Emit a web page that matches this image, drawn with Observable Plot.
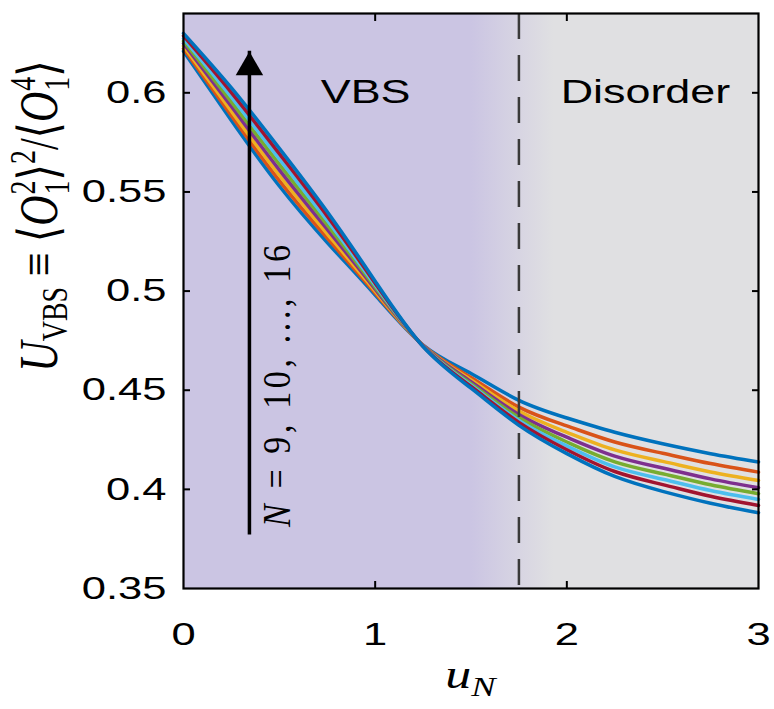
<!DOCTYPE html>
<html><head><meta charset="utf-8">
<script src="https://cdn.jsdelivr.net/npm/d3@7"></script>
<script src="https://cdn.jsdelivr.net/npm/@observablehq/plot@0.6"></script>
<style>body{margin:0;background:#fff}</style>
</head><body><div id="chart"></div>
<script>
// ---- data ----
const Ns = [9, 10, 11, 12, 13, 14, 15, 16];
const lineColors = ["#0072BD", "#D95319", "#EDB120", "#7E2F8E", "#77AC30", "#4DBEEE", "#A2142F", "#0072BD"];
const uGrid = [0, 0.25, 0.5, 0.75, 1, 1.25, 1.5, 1.75, 2, 2.25, 2.5, 2.75, 3];
const U_N9  = [0.621, 0.586, 0.553, 0.5245, 0.498, 0.4728, 0.4584, 0.4449, 0.436, 0.4288, 0.423, 0.418, 0.4138];
const U_N10 = [0.6223, 0.5884, 0.5557, 0.5267, 0.499, 0.4727, 0.4564, 0.4415, 0.432, 0.4239, 0.4182, 0.413, 0.4087];
const U_N11 = [0.6236, 0.5907, 0.5584, 0.5289, 0.500, 0.4726, 0.4552, 0.4395, 0.4288, 0.4199, 0.4141, 0.4088, 0.4045];
const U_N12 = [0.6249, 0.5931, 0.5611, 0.5311, 0.501, 0.4725, 0.4543, 0.4378, 0.4263, 0.4168, 0.4108, 0.4053, 0.4008];
const U_N13 = [0.6261, 0.5954, 0.5639, 0.5334, 0.502, 0.4723, 0.4533, 0.4362, 0.4239, 0.4139, 0.4079, 0.4023, 0.3978];
const U_N14 = [0.6274, 0.5978, 0.5666, 0.5356, 0.503, 0.4722, 0.4525, 0.4348, 0.4219, 0.4113, 0.4051, 0.3994, 0.3949];
const U_N15 = [0.6287, 0.6001, 0.5693, 0.5378, 0.504, 0.4721, 0.4519, 0.4338, 0.420, 0.409, 0.4024, 0.3965, 0.3919];
const U_N16 = [0.630, 0.6025, 0.572, 0.540, 0.505, 0.472, 0.451, 0.4323, 0.418, 0.4065, 0.399, 0.393, 0.3882];
const xTicks = [0, 1, 2, 3];
const yTicks = [0.35, 0.4, 0.45, 0.5, 0.55, 0.6];
const yTickLabels = ["0.35", "0.4", "0.45", "0.5", "0.55", "0.6"];
const phaseBoundary = [1.75];
const arrowSpec = [{u: 0.344, from: 0.377, to: 0.621}];
const regionLabels = [{text: "VBS", u: 0.95, U: 0.6}, {text: "Disorder", u: 2.41, U: 0.6}];

const series = [U_N9, U_N10, U_N11, U_N12, U_N13, U_N14, U_N15, U_N16];
const rows = Ns.flatMap((n, i) => uGrid.map((u, j) => ({N: n, u, U: series[i][j]})));

const STRETCH = 1.36;
const svg = Plot.plot({
  width: 774, height: 709,
  marginLeft: 183, marginRight: 16, marginTop: 13, marginBottom: 121,
  style: {fontFamily: "'Liberation Sans', Arial, sans-serif", fontSize: "32px", color: "black", background: "white"},
  x: {domain: [0, 3]},
  y: {domain: [0.35, 0.64]},
  color: {type: "ordinal", domain: Ns, range: lineColors},
  marks: [
    Plot.frame({fill: "url(#bgGrad)", stroke: "none"}),
    Plot.line(rows, {x: "u", y: "U", z: "N", stroke: "N", strokeWidth: 3.5, curve: "natural"}),
    Plot.ruleX(phaseBoundary, {stroke: "#3a3a3a", strokeWidth: 2.5, strokeDasharray: "26,16"}),
    Plot.ruleX(arrowSpec, {x: "u", y1: "from", y2: "to", stroke: "black", strokeWidth: 3.5}),
    Plot.dot(arrowSpec, {x: "u", y: "to", symbol: "triangle", r: 10.2, fill: "black", stroke: "none", dy: 16.2}),
    Plot.text(regionLabels, {x: "u", y: "U", text: "text", fontSize: 33, fill: "black"}),
    Plot.axisY({ticks: yTicks, tickFormat: (d) => yTickLabels[yTicks.indexOf(d)], tickSize: 0, tickPadding: 17, label: null, fontSize: 32}),
    Plot.axisY({ticks: yTicks.slice(1), anchor: "left", tickSize: -7, fill: "none", strokeWidth: 2}),
    Plot.axisY({ticks: yTicks.slice(1), anchor: "right", tickSize: -7, fill: "none", strokeWidth: 2}),
    Plot.axisX({ticks: xTicks, tickFormat: d => String(d), tickSize: 0, tickPadding: 34, label: null, fontSize: 32}),
    Plot.axisX({ticks: [1, 2], anchor: "bottom", tickSize: -7, fill: "none", strokeWidth: 2}),
    Plot.axisX({ticks: [1, 2], anchor: "top", tickSize: -7, fill: "none", strokeWidth: 2}),
    Plot.frame({stroke: "black", strokeWidth: 2.2})
  ]
});

const root = d3.select(svg);
// gradient background (VBS -> Disorder)
const defs = root.insert("defs", ":first-child");
const grad = defs.append("linearGradient").attr("id", "bgGrad")
  .attr("x1", "0").attr("x2", "1").attr("y1", "0").attr("y2", "0");
grad.append("stop").attr("offset", 1.5 / 3).attr("stop-color", "#cbc5e3");
grad.append("stop").attr("offset", 1.93 / 3).attr("stop-color", "#e0e0e2");

// horizontally widened glyphs as in the reference
root.selectAll("text").each(function () {
  const t = this.getAttribute("transform");
  if (t) this.setAttribute("transform", t + ` scale(${STRETCH},1)`);
  else {
    const x = +this.getAttribute("x") || 0;
    this.setAttribute("transform", `translate(${x},0) scale(${STRETCH},1) translate(${-x},0)`);
  }
});

const sx = svg.scale("x"), sy = svg.scale("y");
const serif = "'Liberation Serif', 'DejaVu Serif', serif";

// x-axis label: u_N
const xl = root.append("text")
  .attr("transform", `translate(${(sx.apply(0) + sx.apply(3)) / 2},688) scale(1.3,1)`)
  .attr("text-anchor", "middle").attr("font-family", serif).attr("font-size", 40).attr("fill", "black");
xl.append("tspan").attr("font-style", "italic").text("u");
xl.append("tspan").attr("font-style", "italic").attr("font-size", 28).attr("dy", 8).text("N");

// y-axis label
const yl = root.append("text")
  .attr("transform", `translate(57,216) rotate(-90) scale(1,1.3)`)
  .attr("text-anchor", "middle").attr("font-family", serif).attr("font-size", 42).attr("fill", "black");
yl.append("tspan").attr("font-style", "italic").text("U");
yl.append("tspan").attr("font-size", 28).attr("dy", 8).text("VBS");
yl.append("tspan").attr("dy", -8).text(" ≡ ⟨");
yl.append("tspan").attr("font-style", "italic").text("O");
yl.append("tspan").attr("font-size", 28).attr("dx", 1).attr("dy", -17).text("2");
yl.append("tspan").attr("font-size", 28).attr("dx", -14).attr("dy", 26).text("1");
yl.append("tspan").attr("dy", -9).text("⟩");
yl.append("tspan").attr("font-size", 28).attr("dy", -17).text("2");
yl.append("tspan").attr("dy", 17).text("/⟨");
yl.append("tspan").attr("font-style", "italic").text("O");
yl.append("tspan").attr("font-size", 28).attr("dx", 1).attr("dy", -17).text("4");
yl.append("tspan").attr("font-size", 28).attr("dx", -14).attr("dy", 26).text("1");
yl.append("tspan").attr("dy", -9).text("⟩");

// arrow label: N = 9, 10, ..., 16
const al = root.append("text")
  .attr("transform", `translate(${sx.apply(arrowSpec[0].u) + 41},386) rotate(-90) scale(1,1.2)`)
  .attr("text-anchor", "middle").attr("font-family", serif).attr("font-size", 34).attr("fill", "black")
  .attr("textLength", 282).attr("lengthAdjust", "spacing");
al.append("tspan").attr("font-style", "italic").text("N");
al.append("tspan").text(" = 9, 10, ..., 16");

document.getElementById("chart").appendChild(svg);
</script></body></html>
